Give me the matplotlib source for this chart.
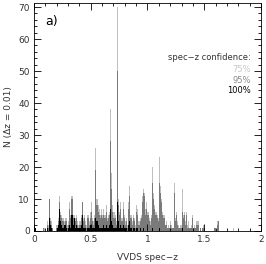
import numpy as np
import matplotlib
matplotlib.use('Agg')
import matplotlib.pyplot as plt
from matplotlib.ticker import MultipleLocator

# VVDS spec-z histogram, bins of dz = 0.01 from 0 to 2
bin_width = 0.01
z_edges = np.arange(0, 2.0 + bin_width / 2, bin_width)

# counts per bin, by spec-z confidence level (cumulative: 75% includes 95% and 100%)
n75 = [0,1,0,0,0,0,0,0,1,1, 0,3,2,10,4,3,1,0,0,2,
       2,4,11,6,5,4,3,4,4,2, 3,9,5,11,5,5,4,5,3,2,
       3,5,9,4,5,3,2,5,3,6, 9,4,3,5,26,10,8,7,5,7,
       5,7,5,8,4,5,6,38,18,8, 6,5,3,70,10,6,9,4,9,5,
       3,4,2,9,14,5,3,5,4,2, 8,7,3,4,5,11,13,12,7,9,
       6,4,3,5,20,12,8,6,5,4, 23,14,10,6,5,2,3,1,2,1,
       3,2,1,15,4,6,3,2,1,2, 13,5,6,3,6,2,3,1,2,5,
       1,2,1,3,3,0,1,0,1,2, 1,0,0,0,0,0,0,0,0,1,
       0,3,3,0,0,0,0,0,0,0, 0,0,0,0,0,1,0,0,0,0,
       0,0,0,0,0,0,0,0,0,0, 0,0,0,0,0,0,0,0,0,0]
n95 = [0,1,0,0,0,0,0,0,1,0, 0,2,1,10,3,2,1,0,0,1,
       1,3,9,5,4,3,2,3,3,1, 2,7,4,10,4,4,3,4,2,1,
       2,4,9,3,4,2,1,4,2,4, 6,3,2,4,19,8,6,5,4,5,
       4,5,4,6,3,4,5,28,13,6, 4,4,2,50,8,5,7,3,7,4,
       2,3,1,7,11,4,2,4,3,1, 6,5,2,3,4,9,12,11,5,7,
       5,3,2,4,15,10,7,5,4,3, 15,12,9,5,4,2,2,1,1,1,
       2,1,1,12,3,5,2,1,1,1, 6,4,5,2,5,1,1,1,1,4,
       1,1,1,2,2,0,1,0,1,1, 1,0,0,0,0,0,0,0,0,1,
       0,2,3,0,0,0,0,0,0,0, 0,0,0,0,0,0,0,0,0,0,
       0,0,0,0,0,0,0,0,0,0, 0,0,0,0,0,0,0,0,0,0]
n100 = [0,1,0,0,0,0,0,0,0,0, 0,1,0,4,2,1,0,0,0,0,
        1,2,7,3,2,1,2,2,1,0, 1,2,1,5,2,4,1,2,1,1,
        1,2,5,1,1,1,0,1,1,2, 2,1,1,1,4,3,2,1,1,1,
        1,2,1,2,1,1,2,7,3,2, 1,1,1,9,3,1,2,1,2,1,
        1,1,0,2,3,1,0,1,1,0, 1,1,0,1,0,0,1,0,0,0,
        0,0,0,0,1,0,0,0,0,0, 1,0,0,0,0,0,0,0,0,0,
        0,0,0,0,0,0,0,0,0,0, 1,0,0,0,0,0,0,0,0,0,
        0,0,0,0,0,0,0,0,0,0, 0,0,0,0,0,0,0,0,0,0,
        0,0,0,0,0,0,0,0,0,0, 0,0,0,0,0,0,0,0,0,0,
        0,0,0,0,0,0,0,0,0,0, 0,0,0,0,0,0,0,0,0,0]

levels = ['75%', '95%', '100%']
colors = ['#bebebe', '#7a7a7a', '#000000']
text_colors = ['#c8c8c8', '#8a8a8a', '#000000']

plt.rcParams['font.family'] = 'DejaVu Sans'
fig = plt.figure(figsize=(2.66, 2.64), dpi=100)
ax = fig.add_axes([0.128, 0.125, 0.853, 0.864])

for counts, c in zip([n75, n95, n100], colors):
    ax.stairs(counts, z_edges, fill=True, color=c, linewidth=0)

ax.set_xlim(0, 2)
ax.set_ylim(0, 71.3)
ax.xaxis.set_major_locator(MultipleLocator(0.5))
ax.xaxis.set_minor_locator(MultipleLocator(0.1))
ax.yaxis.set_major_locator(MultipleLocator(10))
ax.yaxis.set_minor_locator(MultipleLocator(2))
ax.set_xticks([0, 0.5, 1, 1.5, 2], ['0', '0.5', '1', '1.5', '2'])
ax.tick_params(which='both', direction='in', top=True, right=True, labelsize=6.5,
               labelcolor='#333333', width=0.6)
ax.tick_params(which='major', length=5, pad=3)
ax.tick_params(which='minor', length=2.5)
for s in ax.spines.values():
    s.set_linewidth(0.6)

ax.set_xlabel('VVDS spec\u2212z', fontsize=6.5, color='#333333', labelpad=6)
ax.set_ylabel('N (\u0394z = 0.01)', fontsize=6.5, color='#333333', labelpad=4)

ax.text(0.079, 0.917, 'a)', transform=ax.transAxes, fontsize=9, ha='center', va='center')
ax.text(0.956, 0.759, 'spec\u2212z confidence:', transform=ax.transAxes,
        fontsize=6, ha='right', va='center', color='#333333')
for lab, c, y in zip(levels, text_colors, [0.706, 0.662, 0.614]):
    ax.text(0.956, y, lab, transform=ax.transAxes, fontsize=6, ha='right', va='center', color=c)

fig.savefig('out.png', dpi=100)
